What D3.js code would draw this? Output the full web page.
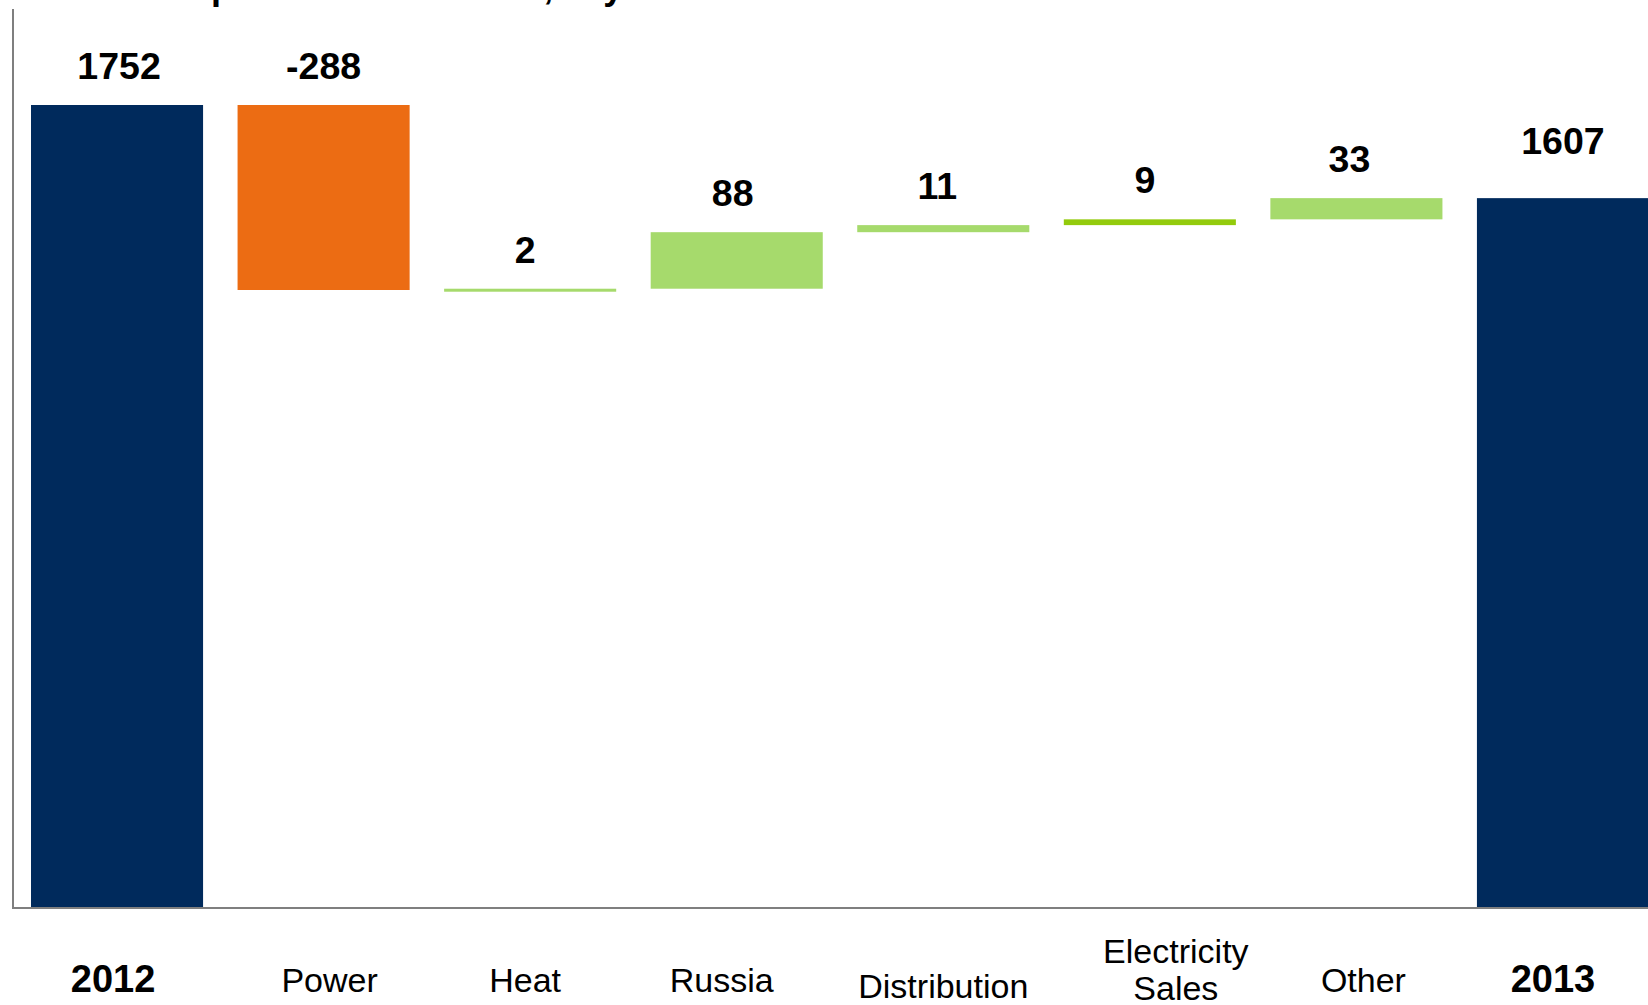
<!DOCTYPE html>
<html>
<head>
<meta charset="utf-8">
<script src="https://cdn.jsdelivr.net/npm/d3@7"></script>
<style>
    html, body { margin: 0; padding: 0; background: #fff; overflow: hidden; }
    svg text { font-family: "Liberation Sans", Arial, sans-serif; fill: #000; }
</style>
</head>
<body>
<svg id="chart" width="1648" height="1005"></svg>
<script>
const categories = ["2012", "Power", "Heat", "Russia", "Distribution", "Electricity Sales", "Other", "2013"];
const values = [1752, -288, 2, 88, 11, 9, 33, 1607];
const kinds = ["total", "delta", "delta", "delta", "delta", "delta", "delta", "total"];
const tickLabels = [["2012"], ["Power"], ["Heat"], ["Russia"], ["Distribution"], ["Electricity", "Sales"], ["Other"], ["2013"]];
const titleText = "Development 2012 to 2013, key drivers";

const colors = {
    total: "#002a5c",
    down: "#ec6c13",
    up: "#a6da6c",
    upStrong: "#93cb0c"
};

// small nudges of the text, as in the source slide
const tickShift = {"2012": -4, "Power": 6, "Heat": -5, "Russia": -15, "Distribution": 0, "Electricity Sales": 26, "Other": 7, "2013": -10};
const valueShift = {"2012": 2, "Power": 0, "Heat": -5, "Russia": -4, "Distribution": -6, "Electricity Sales": -5, "Other": -7, "2013": 0};

const svg = d3.select("#chart");
const w = 1648, h = 1005;

// running totals for the waterfall
let running = 0;
const bars = categories.map(function(c, i) {
    const v = values[i];
    let y0, y1;
    if (kinds[i] === "total") {
        y0 = 0; y1 = v; running = v;
    } else {
        y0 = running; y1 = running + v; running = y1;
    }
    return {key: c, value: v, kind: kinds[i], lo: Math.min(y0, y1), hi: Math.max(y0, y1), lines: tickLabels[i]};
});

const xScale = d3.scaleBand()
    .domain(categories)
    .range([31, 1649])
    .paddingInner(0.167)
    .paddingOuter(0);

// the original is drawn with a compressed lower section
const yScale = d3.scaleLinear()
    .domain([0, 1464, 1752])
    .range([908, 290, 105]);

// clipped title (only descenders visible at the top edge)
svg.append("text")
    .attr("x", 93)
    .attr("y", -1)
    .style("font-size", "36px")
    .style("font-weight", "bold")
    .text(titleText);

function barColor(d) {
    if (d.kind === "total") return colors.total;
    if (d.value < 0) return colors.down;
    if (d.key === "Electricity Sales") return colors.upStrong;
    return colors.up;
}

svg.selectAll(".bar")
    .data(bars)
    .enter().append("rect")
    .attr("class", "bar")
    .attr("x", d => xScale(d.key))
    .attr("width", xScale.bandwidth())
    .attr("y", d => yScale(d.hi))
    .attr("height", d => Math.max(3, yScale(d.lo) - yScale(d.hi)))
    .style("fill", barColor);

// axes lines
svg.append("line")
    .attr("x1", 13).attr("x2", 13)
    .attr("y1", 9).attr("y2", yScale(0))
    .style("stroke", "#7f7f7f").style("stroke-width", 2);

svg.append("line")
    .attr("x1", 12).attr("x2", w)
    .attr("y1", yScale(0)).attr("y2", yScale(0))
    .style("stroke", "#7f7f7f").style("stroke-width", 2);

// value labels
svg.selectAll(".value")
    .data(bars)
    .enter().append("text")
    .attr("class", "value")
    .attr("text-anchor", "middle")
    .attr("x", d => xScale(d.key) + xScale.bandwidth() / 2 + valueShift[d.key])
    .attr("y", d => yScale(d.hi) - (d.key === "2013" ? 44 : d.key === "2012" ? 26 : 26))
    .style("font-size", "37.5px")
    .style("font-weight", "bold")
    .text(d => d.value);

// category labels via bottom axis
const xAxis = svg.append("g")
    .attr("class", "axis x")
    .attr("transform", `translate(0, ${yScale(0)})`)
    .call(d3.axisBottom(xScale).tickSize(0).tickPadding(0));

xAxis.select(".domain").remove();

xAxis.selectAll(".tick text").each(function(c) {
    const d = bars.find(b => b.key === c);
    const t = d3.select(this)
        .attr("y", 0)
        .attr("dy", null)
        .style("font-size", d.kind === "total" ? "38px" : "34px")
        .style("font-weight", d.kind === "total" ? "bold" : "normal")
        .style("fill", "#000")
        .text(null);
    const baseline = d.lines.length > 1 ? 55 : (c === "Distribution" ? 90 : 84);
    d.lines.forEach(function(line, i) {
        t.append("tspan")
            .attr("x", tickShift[c])
            .attr("y", baseline + i * 37)
            .text(line);
    });
});
</script>
</body>
</html>
